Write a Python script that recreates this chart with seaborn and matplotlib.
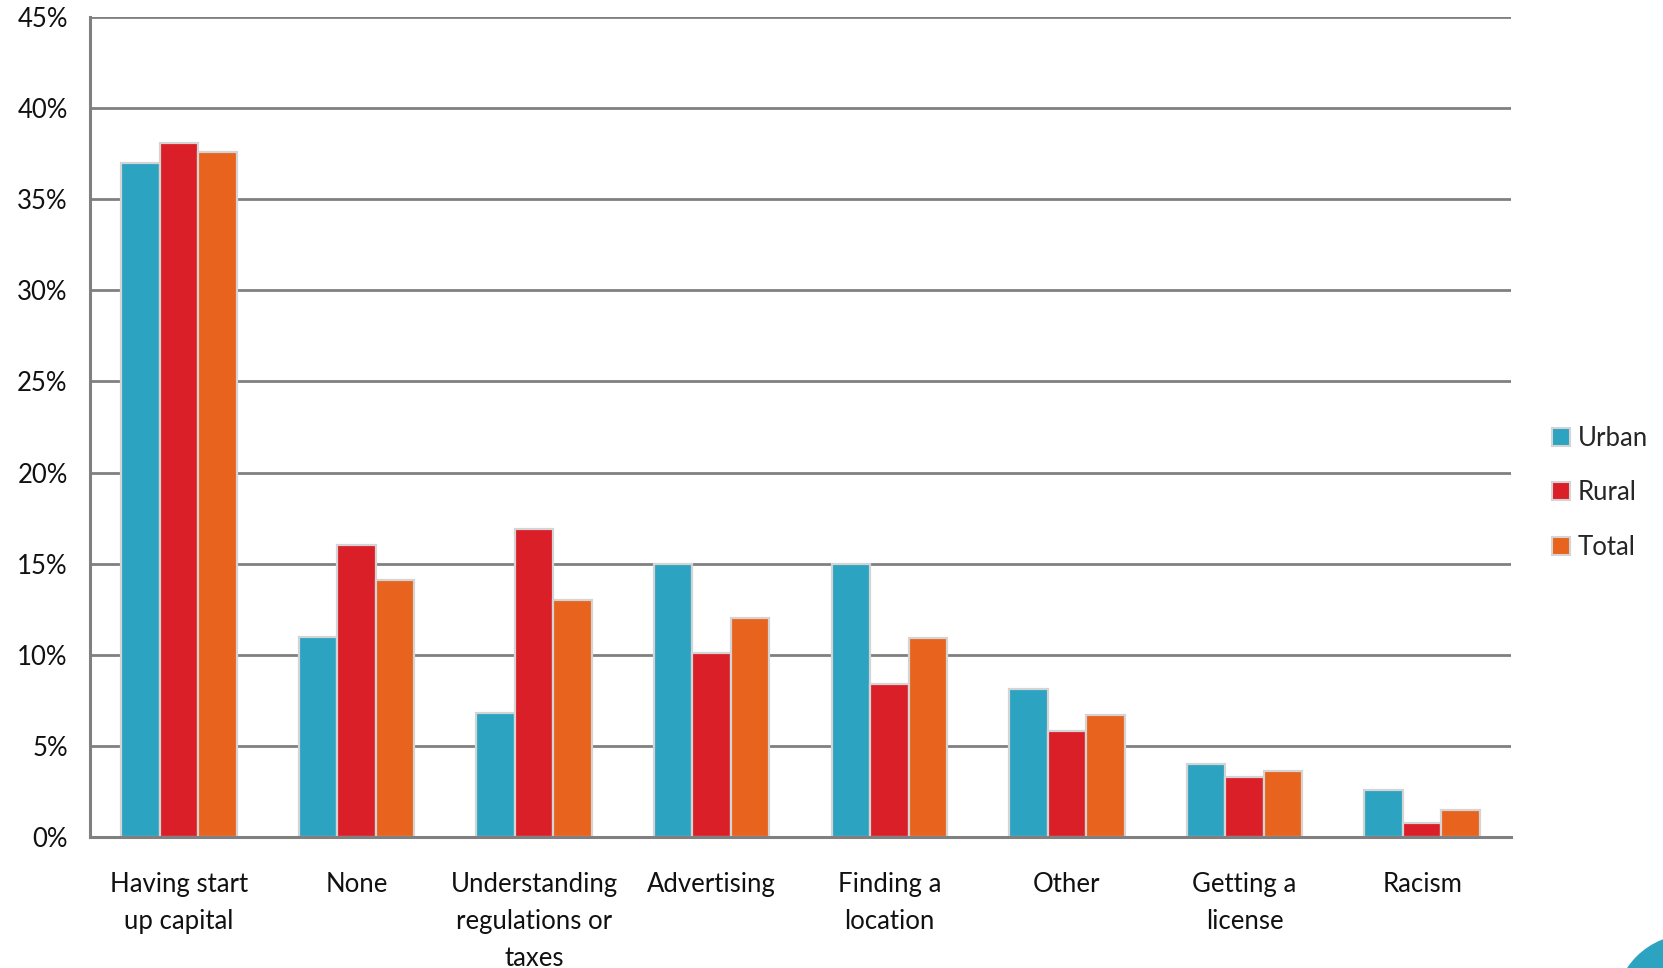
import matplotlib
matplotlib.use("Agg")
import matplotlib.pyplot as plt
import seaborn as sns
import pandas as pd
from matplotlib.patches import Patch, Circle
from matplotlib.ticker import FuncFormatter

categories = ["Having start\nup capital", "None", "Understanding\nregulations or\ntaxes",
              "Advertising", "Finding a\nlocation", "Other", "Getting a\nlicense", "Racism"]
series = ["Urban", "Rural", "Total"]
urban = [37.0, 11.0, 6.8, 15.0, 15.0, 8.1, 4.0, 2.6]
rural = [38.1, 16.0, 16.9, 10.1, 8.4, 5.8, 3.3, 0.75]
total = [37.6, 14.1, 13.0, 12.0, 10.9, 6.7, 3.6, 1.5]
colors = ["#2CA3C0", "#DA1F29", "#E8631E"]
yticks = [0, 5, 10, 15, 20, 25, 30, 35, 40, 45]

rows = []
for s, vals in zip(series, [urban, rural, total]):
    for c, v in zip(categories, vals):
        rows.append({"cat": c, "series": s, "val": v})
df = pd.DataFrame(rows)

sns.set_style("white")
plt.rcParams["font.family"] = ["Lato", "DejaVu Sans"]

fig = plt.figure(figsize=(16.63, 9.68), dpi=100)
ax = fig.add_axes([0.0541, 0.1353, 0.9086 - 0.0541, 0.9824 - 0.1353])

sns.barplot(data=df, x="cat", y="val", hue="series", order=categories,
            hue_order=series, palette=colors, width=0.65, ax=ax,
            edgecolor="#d4d4d4", linewidth=1.6, legend=False, errorbar=None,
            saturation=1)

ax.set_ylim(0, 45)
ax.set_xlim(-0.5, 7.5)
ax.set_yticks(yticks)
ax.yaxis.set_major_formatter(FuncFormatter(lambda v, p: f"{int(v)}%"))
ax.set_axisbelow(True)
ax.grid(axis="y", color="#808080", linewidth=2)
ax.grid(axis="x", visible=False)
for side in ["top", "right"]:
    ax.spines[side].set_visible(False)
for side in ["left", "bottom"]:
    ax.spines[side].set_color("#808080")
    ax.spines[side].set_linewidth(2.2)
ax.tick_params(axis="both", length=0, labelsize=18.5, colors="#111111")
ax.tick_params(axis="y", pad=16)
ax.tick_params(axis="x", pad=25)
ax.set_xlabel("")
ax.set_ylabel("")
for lab in ax.get_xticklabels():
    lab.set_linespacing(1.6)

handles = [Patch(facecolor=c, edgecolor="#d4d4d4", linewidth=1.5, label=s)
           for c, s in zip(colors, series)]
fig.legend(handles=handles, loc="center left", bbox_to_anchor=(0.927, 0.491),
           frameon=False, fontsize=18.5, handlelength=0.7, handleheight=0.7,
           handletextpad=0.3, labelspacing=1.15, borderaxespad=0)

circ = Circle((16.9, -0.42), 0.75, transform=fig.dpi_scale_trans, color="#2CA3C0",
              clip_on=False)
fig.patches.append(circ)

fig.savefig("out.png", dpi=100)
